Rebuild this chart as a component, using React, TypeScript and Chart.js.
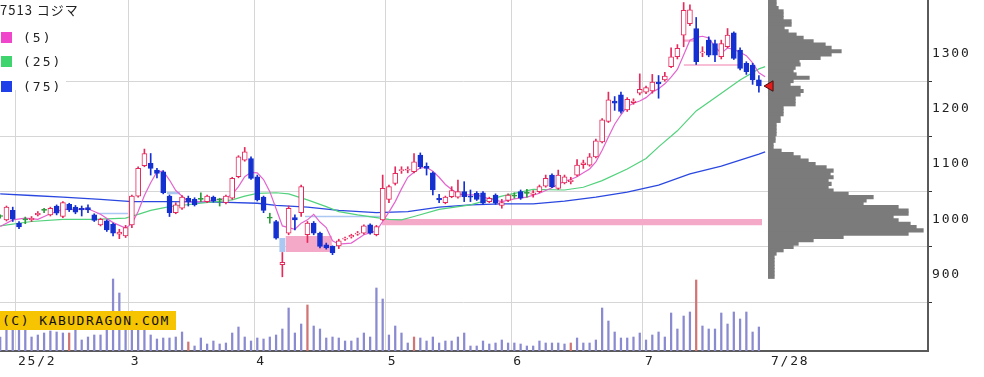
import React, { useEffect, useRef } from 'react';
import { Chart, registerables } from 'chart.js';
Chart.register(...registerables);

// ---------- data ----------
const title = '7513 コジマ';
const opens = [
  1005, 999, 1016, 993, 999, 999, 1008, 1016, 1008, 1024,
  1005, 1027, 1022, 1020, 1021, 1008, 990, 997, 991, 973,
  970, 990, 1042, 1097, 1101, 1089, 1086, 1042, 1012, 1020,
  1038, 1036, 1036, 1032, 1040, 1035, 1030, 1038, 1077, 1107,
  1110, 1077, 1040, 1002, 996, 918, 975, 1003, 1012, 972,
  993, 975, 954, 951, 952, 964, 968, 973, 975, 990,
  972, 999, 1036, 1065, 1088, 1089, 1086, 1116, 1096, 1084,
  1038, 1030, 1041, 1040, 1050, 1042, 1047, 1048, 1032, 1044,
  1025, 1034, 1042, 1050, 1047, 1045, 1050, 1060, 1080, 1056,
  1066, 1068, 1080, 1099, 1098, 1113, 1140, 1177, 1214, 1225,
  1198, 1211, 1228, 1230, 1232, 1248, 1252, 1276, 1294, 1333,
  1354, 1345, 1301, 1324, 1318, 1294, 1312, 1337, 1306, 1282,
  1279, 1252,
];
const highs = [
  1008, 1024, 1022, 996, 1004, 1005, 1014, 1020, 1022, 1026,
  1032, 1029, 1025, 1024, 1026, 1010, 1002, 999, 993, 982,
  989, 1044, 1095, 1127, 1119, 1092, 1088, 1044, 1030, 1043,
  1042, 1039, 1048, 1044, 1042, 1038, 1044, 1076, 1115, 1130,
  1113, 1080, 1042, 1011, 998, 940, 1024, 1008, 1062, 996,
  996, 977, 957, 952, 964, 968, 973, 978, 990, 992,
  989, 1080, 1062, 1095, 1095, 1095, 1119, 1120, 1102, 1086,
  1045, 1042, 1059, 1071, 1068, 1053, 1050, 1050, 1040, 1046,
  1036, 1046, 1048, 1053, 1054, 1052, 1062, 1080, 1082, 1089,
  1080, 1076, 1108, 1107, 1119, 1145, 1182, 1230, 1222, 1230,
  1220, 1218, 1263, 1241, 1262, 1260, 1266, 1310, 1316, 1392,
  1388, 1365, 1312, 1330, 1324, 1324, 1345, 1339, 1310, 1285,
  1282, 1260,
];
const lows = [
  1002, 997, 996, 983, 992, 996, 1006, 1012, 1006, 1008,
  1003, 1014, 1010, 1006, 1012, 996, 988, 978, 970, 965,
  967, 985, 1040, 1095, 1080, 1075, 1046, 1005, 1010, 1018,
  1024, 1024, 1032, 1030, 1031, 1024, 1028, 1036, 1075, 1105,
  1072, 1033, 1012, 993, 964, 896, 972, 981, 1005, 958,
  972, 948, 946, 936, 947, 962, 966, 971, 973, 973,
  970, 998, 1030, 1062, 1083, 1084, 1084, 1092, 1080, 1044,
  1030, 1028, 1039, 1038, 1032, 1032, 1034, 1027, 1030, 1027,
  1020, 1032, 1038, 1036, 1040, 1040, 1048, 1058, 1057, 1054,
  1064, 1064, 1078, 1092, 1096, 1111, 1138, 1175, 1197, 1192,
  1195, 1208, 1225, 1227, 1228, 1219, 1250, 1274, 1290, 1312,
  1350, 1280, 1294, 1294, 1285, 1290, 1310, 1289, 1270, 1262,
  1244, 1230,
];
const closes = [
  1005, 1022, 1000, 986, 999, 1002, 1011, 1016, 1020, 1011,
  1030, 1017, 1013, 1017, 1017, 998, 1000, 981, 975, 977,
  985, 1042, 1092, 1119, 1092, 1083, 1048, 1012, 1026, 1040,
  1032, 1026, 1036, 1042, 1033, 1035, 1042, 1074, 1113, 1122,
  1074, 1035, 1016, 1002, 966, 922, 1020, 999, 1059, 993,
  975, 951, 948, 939, 961, 966, 971, 975, 988, 975,
  987, 1056, 1059, 1083, 1090, 1091, 1104, 1095, 1092, 1053,
  1035, 1040, 1052, 1050, 1041, 1040, 1036, 1029, 1038, 1029,
  1030, 1044, 1042, 1038, 1047, 1048, 1059, 1074, 1059, 1080,
  1077, 1071, 1098, 1102, 1113, 1142, 1180, 1216, 1210, 1195,
  1217, 1214, 1235, 1238, 1248, 1245, 1259, 1294, 1309, 1378,
  1379, 1285, 1303, 1297, 1297, 1318, 1333, 1291, 1273, 1267,
  1252, 1241,
];
const volumes = [
  140, 250, 280, 250, 240, 140, 160, 180, 200, 190,
  180, 180, 220, 110, 140, 160, 160, 300, 720, 580,
  380, 400, 350, 280, 160, 120, 130, 130, 140, 190,
  90, 50, 130, 70, 100, 70, 80, 180, 240, 140,
  100, 130, 120, 140, 160, 220, 430, 180, 270, 460,
  250, 220, 130, 140, 130, 100, 100, 130, 180, 140,
  630, 520, 160, 250, 180, 80, 140, 130, 100, 140,
  80, 100, 100, 140, 180, 50, 50, 100, 70, 80,
  110, 80, 80, 70, 50, 50, 100, 80, 80, 80,
  70, 80, 130, 80, 80, 110, 430, 300, 190, 130,
  130, 140, 180, 110, 160, 190, 140, 380, 220, 350,
  390, 710, 250, 220, 220, 380, 270, 390, 320, 390,
  190, 240,
];
// SQ days (volume drawn in red)
const sqDays = [11, 30, 49, 66, 91, 111];

// moving averages: [candle index, value]
const ma5: [number, number][] = [
  [0, 987], [2, 999], [4, 1002], [6, 1000], [8, 1010], [10, 1018], [12, 1018], [14, 1019], [16, 1009],
  [18, 994], [20, 984], [21, 992], [22, 1014], [23, 1043], [24, 1066], [25, 1086], [26, 1087], [27, 1071],
  [28, 1052], [30, 1032], [32, 1032], [34, 1034], [36, 1038], [37, 1045], [38, 1059], [39, 1077], [40, 1085],
  [41, 1084], [42, 1072], [43, 1050], [44, 1019], [45, 988], [46, 985], [47, 982], [48, 993], [49, 999],
  [50, 1009], [51, 995], [52, 985], [53, 961], [54, 955], [56, 957], [58, 972], [60, 979], [61, 996],
  [62, 1013], [63, 1032], [64, 1055], [65, 1076], [66, 1085], [67, 1093], [68, 1094], [69, 1087], [70, 1076],
  [71, 1063], [72, 1054], [73, 1046], [74, 1044], [76, 1044], [78, 1037], [80, 1032], [82, 1037], [84, 1040],
  [86, 1047], [88, 1057], [90, 1069], [91, 1072], [92, 1077], [93, 1084], [94, 1091], [95, 1104], [96, 1125],
  [97, 1149], [98, 1172], [99, 1189], [100, 1204], [101, 1210], [102, 1214], [103, 1220], [104, 1230],
  [105, 1236], [106, 1245], [107, 1257], [108, 1271], [109, 1297], [110, 1324], [111, 1329], [112, 1331],
  [113, 1328], [114, 1312], [115, 1300], [116, 1310], [117, 1307], [118, 1302], [119, 1296], [120, 1283],
  [121, 1265], [122, 1258],
];
const ma25: [number, number][] = [
  [0, 988], [5, 996], [10, 1000], [15, 1000], [20, 1002], [22, 1009], [24, 1016], [27, 1023], [32, 1029],
  [37, 1035], [39, 1042], [41, 1047], [44, 1048], [46, 1046], [49, 1035], [52, 1023], [54, 1014], [57, 1008],
  [60, 1003], [62, 1000], [64, 999], [66, 1005], [70, 1018], [75, 1026], [80, 1042], [85, 1054], [90, 1053],
  [93, 1058], [96, 1070], [100, 1091], [103, 1110], [105, 1131], [108, 1160], [111, 1196], [114, 1220],
  [118, 1252], [121, 1272], [122, 1276],
];
const ma75: [number, number][] = [
  [0, 1046], [5, 1043], [10, 1040], [16, 1036], [21, 1032], [27, 1032], [35, 1031], [41, 1029], [44, 1025],
  [49, 1022], [54, 1016], [60, 1012], [65, 1014], [70, 1022], [75, 1026], [80, 1028], [85, 1028], [90, 1033],
  [95, 1040], [100, 1049], [105, 1062], [110, 1082], [115, 1096], [118, 1107], [121, 1118], [122, 1122],
];

// price-volume profile (bin centre price, relative volume)
const profilePrices = [
  1394, 1388, 1382, 1376, 1370, 1364, 1358, 1352, 1346, 1340, 1334, 1328, 1322, 1316, 1310, 1304,
  1298, 1292, 1286, 1280, 1274, 1268, 1262, 1256, 1250, 1244, 1238, 1232, 1226, 1220, 1214, 1208,
  1202, 1196, 1190, 1184, 1178, 1172, 1166, 1160, 1154, 1148, 1142, 1136, 1130, 1124, 1118, 1112,
  1106, 1100, 1094, 1088, 1082, 1076, 1070, 1064, 1058, 1052, 1046, 1040, 1034, 1028, 1022, 1016,
  1010, 1004, 998, 992, 986, 980, 974, 968, 962, 956, 950, 944, 938, 932, 926, 920, 914, 908, 902, 896,
];
const profileVolumes = [
  80, 80, 100, 150, 150, 150, 230, 230, 160, 200, 280, 350, 450, 570, 630, 730,
  630, 520, 310, 320, 270, 250, 280, 410, 250, 220, 320, 350, 320, 270, 270, 270,
  150, 150, 150, 120, 120, 80, 80, 80, 80, 70, 70, 50, 50, 130, 250, 320,
  400, 470, 580, 650, 620, 650, 600, 630, 600, 650, 800, 1050, 980, 950, 1300, 1400,
  1400, 1250, 1300, 1420, 1480, 1550, 1400, 750, 450, 300, 250, 150, 80, 60, 60, 60, 60, 60, 60, 60,
];
const PROFILE_BIN = 6;

// gaps (窓): start index, end index, low, high, kind
const gapStart = [60.9, 44.5, 45.5, 48.6, 15.4, 26.6, 108.9, 109];
const gapEnd = [121.5, 45.5, 52.9, 61.1, 20.4, 28.7, 111, 118];
const gapLow = [989, 941, 941, 1003.5, 1009, 1045.5, 1321, 1277.5];
const gapHigh = [1000.5, 966, 970, 1006.5, 1012, 1050, 1325, 1280.5];
const gapKind = ['up', 'down', 'up', 'down', 'down', 'down', 'up', 'up'];

// axis ticks
const monthStarts = [3, 21, 41, 62, 82, 103];
const monthLabels = ['25/2', '3', '4', '5', '6', '7'];
const lastLabel = '7/28';
const priceTicks = [900, 1000, 1100, 1200, 1300];
const maLabels = ['(5)', '(25)', '(75)'];

// ---------- layout / style constants ----------
const W = 984;
const H = 377;
const Y_AXIS_W = 56;
const X_AXIS_H = 26;
const PLOT_R = W - Y_AXIS_W;
const PLOT_B = H - X_AXIS_H;
const X_MIN = -0.032;
const X_MAX = 147.97;
const Y_MIN = 761.8;
const Y_MAX = 1396.6;
const VOL_PER_PX = 10;
const PROFILE_BASE_PX = 768.3;

const UP = '#e52a5c';
const DOWN = '#1530d0';
const EVEN = '#2a9a3a';
const MA_COLORS = ['#e463cf', '#52d27c', '#2a48e0'];
const LEGEND_COLORS = ['#f046cc', '#3fd46e', '#1f3fe8'];
const GRID = '#d6d6d6';
const MONO = '"DejaVu Sans Mono", monospace';

const zeroPad = (s: any) => {
  s.paddingTop = 0;
  s.paddingBottom = 0;
  s.paddingLeft = 0;
  s.paddingRight = 0;
};

export default function App() {
  const ref = useRef<HTMLCanvasElement | null>(null);

  useEffect(() => {
    const canvas = ref.current;
    if (!canvas) return;
    const last = closes.length - 1;
    const kind = closes.map((c, i) => (c > opens[i] ? 'up' : c < opens[i] ? 'down' : 'even'));
    const colorOf = (k: string) => (k === 'up' ? UP : k === 'down' ? DOWN : EVEN);

    const gapSets: any[] = gapStart.map((s, g) => ({
      type: 'line',
      data: [
        { x: s, y: gapHigh[g] },
        { x: gapEnd[g], y: gapHigh[g] },
      ],
      borderWidth: 0,
      pointRadius: 0,
      fill: { value: gapLow[g] },
      backgroundColor: gapKind[g] === 'up' ? '#f5a9c9' : '#aac8f2',
      order: 100,
    }));

    const pxPerPrice = PLOT_B / (Y_MAX - Y_MIN);

    const letterSpacing = {
      id: 'letterSpacing',
      beforeDraw(chart: any) {
        try {
          chart.ctx.letterSpacing = '1.8px';
        } catch (e) {}
      },
    };

    const chart = new Chart(canvas, {
      type: 'line',
      data: {
        datasets: [
          ...gapSets,
          {
            type: 'bar',
            xAxisID: 'x',
            yAxisID: 'y2',
            data: volumes.map((v, i) => ({ x: i, y: v })),
            backgroundColor: volumes.map((_, i) => (sqDays.includes(i) ? '#d07474' : '#8a8ad0')),
            barThickness: 1.6,
            grouped: false,
            order: 90,
          },
          {
            type: 'bar',
            indexAxis: 'y',
            xAxisID: 'xp',
            yAxisID: 'y',
            data: profilePrices.map((p, i) => ({ x: profileVolumes[i], y: p })),
            backgroundColor: '#7b7b7b',
            barThickness: PROFILE_BIN * pxPerPrice + 0.15,
            grouped: false,
            order: 80,
          },
          {
            type: 'line',
            data: ma75.map(([x, y]) => ({ x, y })),
            borderColor: MA_COLORS[2],
            borderWidth: 1.3,
            pointRadius: 0,
            fill: false,
            order: 60,
          },
          {
            type: 'line',
            data: ma25.map(([x, y]) => ({ x, y })),
            borderColor: MA_COLORS[1],
            borderWidth: 1.2,
            pointRadius: 0,
            fill: false,
            order: 59,
          },
          {
            type: 'line',
            data: ma5.map(([x, y]) => ({ x, y })),
            borderColor: MA_COLORS[0],
            borderWidth: 1.2,
            pointRadius: 0,
            fill: false,
            order: 58,
          },
          {
            type: 'bar',
            xAxisID: 'x',
            yAxisID: 'y',
            data: closes.map((_, i) => ({ x: i, y: [lows[i], highs[i]] })),
            backgroundColor: kind.map(colorOf),
            barThickness: 1,
            grouped: false,
            order: 20,
          },
          {
            type: 'bar',
            xAxisID: 'x',
            yAxisID: 'y',
            data: closes.map((c, i) => ({ x: i, y: [opens[i], c] })),
            backgroundColor: kind.map((k) => (k === 'up' ? '#ffffff' : colorOf(k))),
            borderColor: kind.map(colorOf),
            borderWidth: 1,
            borderSkipped: false,
            barThickness: 5,
            minBarLength: 1,
            grouped: false,
            order: 10,
          },
          {
            type: 'line',
            data: [{ x: last + 1.78, y: closes[last] }],
            showLine: false,
            pointStyle: 'triangle',
            pointRotation: -90,
            pointRadius: 6,
            pointBackgroundColor: '#e41c1c',
            pointBorderColor: '#4a1010',
            pointBorderWidth: 1,
            order: 0,
          },
        ],
      },
      options: {
        animation: false,
        responsive: false,
        maintainAspectRatio: false,
        events: [],
        layout: { padding: 0, autoPadding: false },
        plugins: {
          legend: { display: false },
          tooltip: { enabled: false },
          title: { display: false },
        },
        scales: {
          x: {
            type: 'linear',
            position: 'bottom',
            min: X_MIN,
            max: X_MAX,
            offset: false,
            afterBuildTicks: (s: any) => {
              s.ticks = [...monthStarts.map((m) => ({ value: m - 0.5 })), { value: last + 1.6 }];
            },
            afterFit: (s: any) => {
              s.height = X_AXIS_H;
              zeroPad(s);
            },
            ticks: {
              autoSkip: false,
              maxRotation: 0,
              minRotation: 0,
              align: 'start',
              labelOffset: 2,
              padding: 3,
              color: '#222',
              font: { family: MONO, size: 13 },
              callback: (_v: any, i: number) => (i < monthLabels.length ? monthLabels[i] : lastLabel),
            },
            grid: {
              offset: false,
              drawTicks: false,
              lineWidth: 1,
              color: (ctx: any) => (ctx.tick && ctx.tick.value > last ? 'rgba(0,0,0,0)' : GRID),
            },
            border: { display: true, color: '#5a5a5a', width: 2 },
          },
          y: {
            type: 'linear',
            position: 'right',
            min: Y_MIN,
            max: Y_MAX,
            offset: false,
            afterBuildTicks: (s: any) => {
              s.ticks = priceTicks.map((v) => ({ value: v }));
            },
            afterFit: (s: any) => {
              s.width = Y_AXIS_W;
              zeroPad(s);
            },
            ticks: {
              padding: 0,
              color: '#222',
              font: { family: MONO, size: 13 },
              callback: (v: any) => (priceTicks.includes(Number(v)) ? String(v) : ''),
            },
            grid: {
              color: (ctx: any) => (ctx.tick && priceTicks.includes(ctx.tick.value) ? GRID : 'rgba(0,0,0,0)'),
              tickColor: (ctx: any) => (ctx.tick && priceTicks.includes(ctx.tick.value) ? '#333' : 'rgba(0,0,0,0)'),
              tickLength: 4,
              lineWidth: 1,
            },
            border: { display: true, color: '#5a5a5a', width: 2 },
          },
          y2: {
            type: 'linear',
            display: false,
            grid: { display: false },
            min: 0,
            max: PLOT_B * VOL_PER_PX,
          },
          xp: {
            type: 'linear',
            display: false,
            grid: { display: false },
            min: -PROFILE_BASE_PX * VOL_PER_PX,
            max: (PLOT_R - PROFILE_BASE_PX) * VOL_PER_PX,
          },
        },
      } as any,
      plugins: [letterSpacing],
    } as any);

    return () => chart.destroy();
  }, []);

  return (
    <div style={{ position: 'absolute', left: 0, top: 0, width: W, height: H, background: '#fff', overflow: 'hidden' }}>
      <canvas ref={ref} width={W} height={H} style={{ display: 'block' }} />
      <div style={{ position: 'absolute', left: 0, top: 0, width: 66, height: 90, background: '#fff' }}>
        <div
          style={{
            position: 'absolute',
            left: 0,
            top: 1,
            fontFamily: '"Noto Sans CJK JP", sans-serif',
            fontSize: 13,
            lineHeight: '18px',
            letterSpacing: 1,
            color: '#222',
            whiteSpace: 'nowrap',
          }}
        >
          {title}
        </div>
        {maLabels.map((l, i) => (
          <div key={l} style={{ position: 'absolute', left: 0, top: 31 + i * 24.3, height: 13, whiteSpace: 'nowrap' }}>
            <div style={{ position: 'absolute', left: 1, top: 1, width: 11, height: 11, background: LEGEND_COLORS[i] }} />
            <div
              style={{
                position: 'absolute',
                left: 23,
                top: -2,
                fontFamily: MONO,
                fontSize: 13,
                lineHeight: '17px',
                letterSpacing: 2,
                color: '#222',
              }}
            >
              {l}
            </div>
          </div>
        ))}
      </div>
      <div
        style={{
          position: 'absolute',
          left: 0,
          top: 311,
          width: 176,
          height: 19,
          background: '#f6c400',
          fontFamily: MONO,
          fontSize: 13,
          lineHeight: '19px',
          letterSpacing: 1.5,
          color: '#111',
          paddingLeft: 2,
          boxSizing: 'border-box',
          whiteSpace: 'nowrap',
        }}
      >
        (C) KABUDRAGON.COM
      </div>
    </div>
  );
}
